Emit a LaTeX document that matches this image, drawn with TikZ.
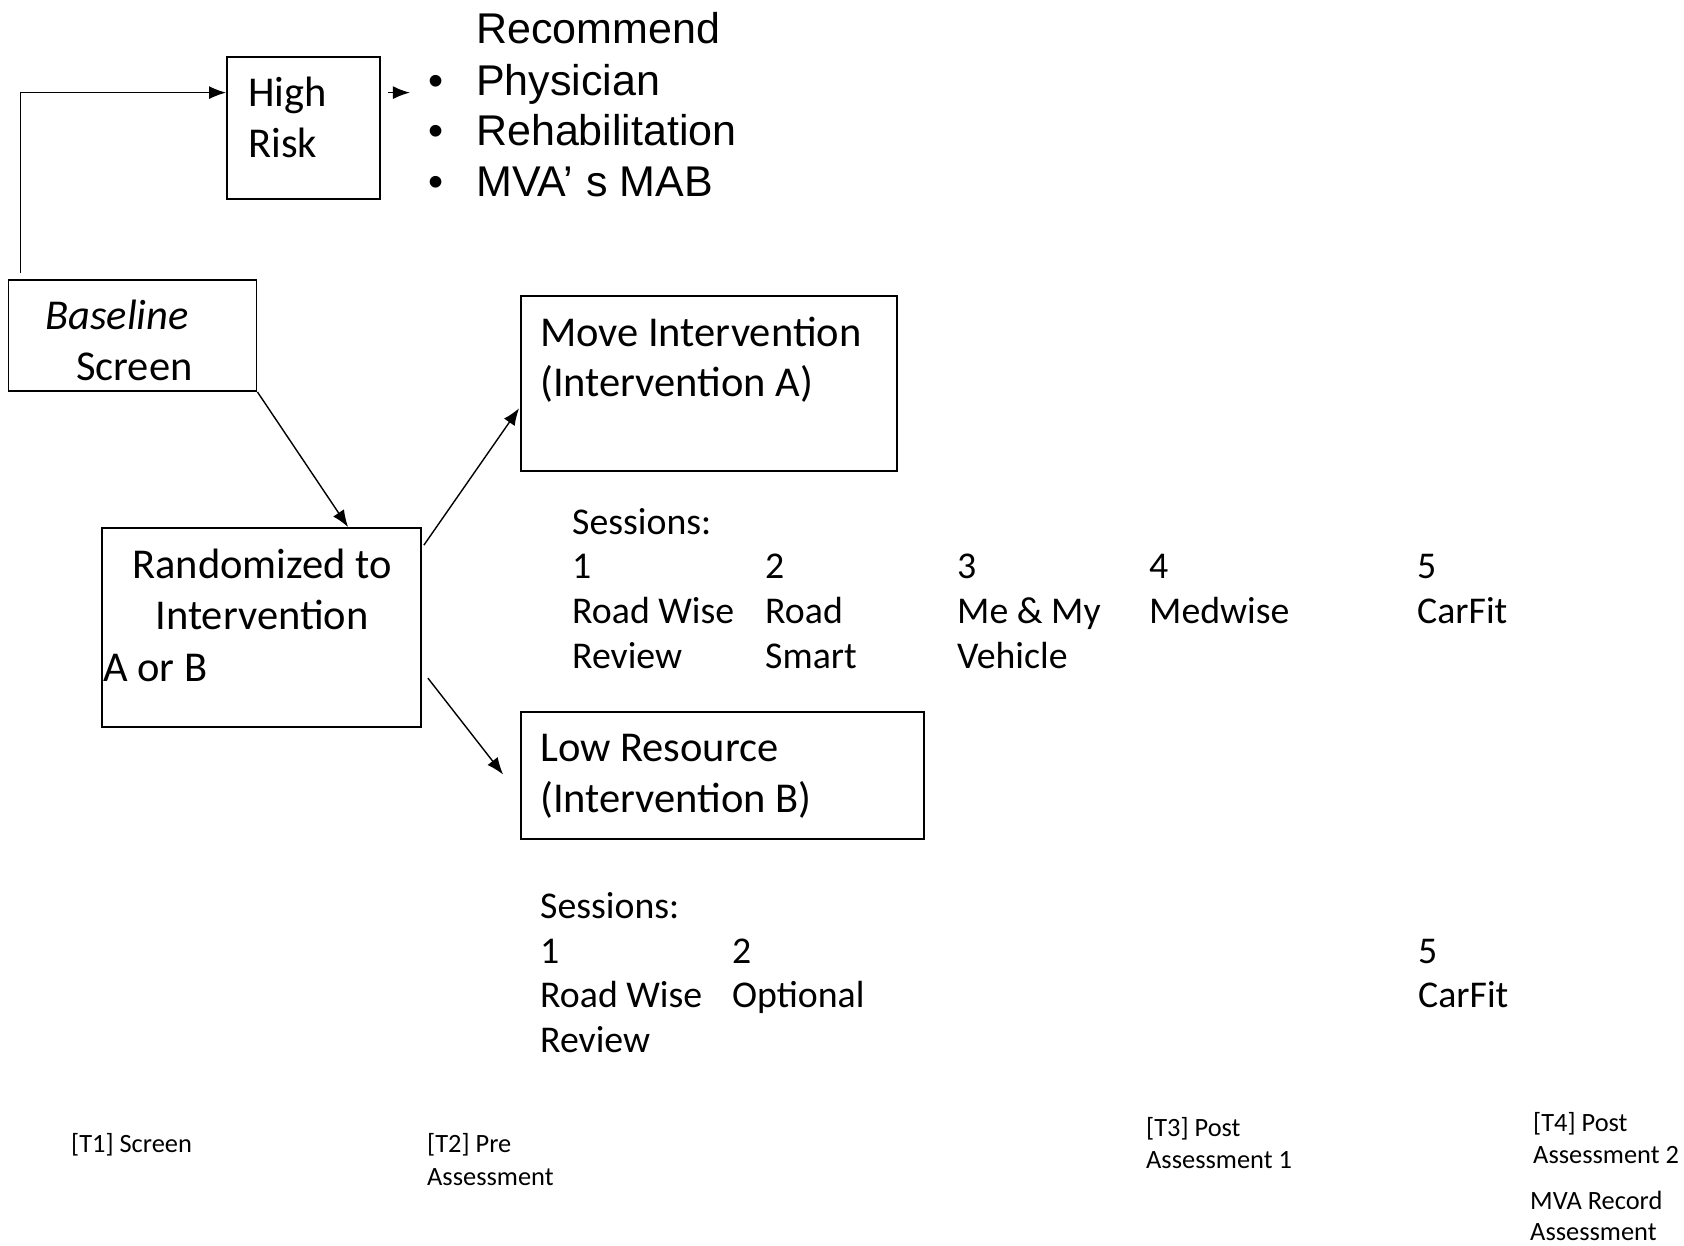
\documentclass[tikz,border=0pt]{standalone}
\usepackage{fontspec}
\setmainfont{Carlito}
\newfontfamily\arialf{Liberation Sans}
\usetikzlibrary{arrows.meta,calc}
\begin{document}
\begin{tikzpicture}[x=1pt,y=-1pt,
  box/.style={draw,line width=1.8pt,inner sep=0pt},
  arr/.style={line width=1.4pt,-{Latex[length=17pt,width=13pt]}},
  big/.style={anchor=base west,inner sep=0pt,font=\fontsize{42.5}{50}\selectfont},
  mid/.style={anchor=base west,inner sep=0pt,font=\fontsize{37.8}{45}\selectfont},
  bul/.style={anchor=base west,inner sep=0pt,font=\arialf\fontsize{43}{51}\selectfont},
  small/.style={anchor=base west,inner sep=0pt,font=\fontsize{26.4}{32}\selectfont}]
\useasboundingbox (0,0) rectangle (1684,1246);
% boxes
\node[box,minimum width=153pt,minimum height=142pt] (hr) at (303.5,128) {};
\node[box,minimum width=248pt,minimum height=111pt] (base) at (132.5,335.5) {};
\node[box,minimum width=319pt,minimum height=199pt] (rand) at (261.5,627.5) {};
\node[box,minimum width=376pt,minimum height=175pt] (movea) at (709,383.5) {};
\node[box,minimum width=403pt,minimum height=127pt] (lowb) at (722.5,775.5) {};
% box texts
\node[big] (t-high) at (248,107) {High};
\node[big] (t-risk) at (248,158) {Risk};
\node[big] (t-base) at (45,330) {\itshape Baseline};
\node[big] (t-scr) at (76,381) {Screen};
\node[big,anchor=base] (t-rand1) at (262,578) {Randomized to};
\node[big,anchor=base] (t-rand2) at (262,629) {Intervention};
\node[big] (t-rand3) at (103,681) {A or B};
\node[big] (t-mv1) at (540,347) {Move Intervention};
\node[big] (t-mv2) at (540,397) {(Intervention A)};
\node[big] (t-lr1) at (540,761) {Low Resource};
\node[big] (t-lr2) at (540,812) {(Intervention B)};
% recommendations
\node[bul] (rec) at (476,44) {Recommend};
\node[bul] (b1) at (428,96) {•};
\node[bul] (r1) at (476,96) {Physician};
\node[bul] (b2) at (428,146) {•};
\node[bul] (r2) at (476,146) {Rehabilitation};
\node[bul] (b3) at (428,197) {•};
\node[bul] (r3) at (476,197) {MVA’\hspace{0.32em}s MAB};
% sessions A
\node[mid] (sa) at (572,534) {Sessions:};
\node[mid] (sa1) at (572,578) {1};
\node[mid] (sa1a) at (572,623) {Road Wise};
\node[mid] (sa1b) at (572,668) {Review};
\node[mid] (sa2) at (765,578) {2};
\node[mid] (sa2a) at (765,623) {Road};
\node[mid] (sa2b) at (765,668) {Smart};
\node[mid] (sa3) at (957,578) {3};
\node[mid] (sa3a) at (957,623) {Me \& My};
\node[mid] (sa3b) at (957,668) {Vehicle};
\node[mid] (sa4) at (1149,578) {4};
\node[mid] (sa4a) at (1149,623) {Medwise};
\node[mid] (sa5) at (1417,578) {5};
\node[mid] (sa5a) at (1417,623) {CarFit};
% sessions B
\node[mid] (sb) at (540,918) {Sessions:};
\node[mid] (sb1) at (540,963) {1};
\node[mid] (sb1a) at (540,1007) {Road Wise};
\node[mid] (sb1b) at (540,1052) {Review};
\node[mid] (sb2) at (732,963) {2};
\node[mid] (sb2a) at (732,1007) {Optional};
\node[mid] (sb5) at (1418,963) {5};
\node[mid] (sb5a) at (1418,1007) {CarFit};
% time points
\node[small] (t1) at (71,1152) {[T1] Screen};
\node[small] (t2a) at (427,1152) {[T2] Pre};
\node[small] (t2b) at (427,1185) {Assessment};
\node[small] (t3a) at (1146,1136) {[T3] Post};
\node[small] (t3b) at (1146,1168) {Assessment 1};
\node[small] (t4a) at (1533,1131) {[T4] Post};
\node[small] (t4b) at (1533,1163) {Assessment 2};
\node[small] (t5a) at (1530,1209) {MVA Record};
\node[small] (t5b) at (1530,1240) {Assessment};
% connectors
\coordinate (bstart) at ($(base.north west)+(13,-6)$);
\coordinate (hrin) at ($(hr.north west)!0.254!(hr.south west)$);
\draw[arr] (bstart) |- (hrin);
\coordinate (hrout) at ($(hr.north east)!0.254!(hr.south east)$);
\coordinate (hrend) at ($(hrout)+(29,0)$);
\draw[arr] ($(hrout)+(7,0)$) -- (hrend);
\draw[arr] (base.south east) -- ($(rand.north west)!0.77!(rand.north east)$);
\draw[arr] ($(rand.north east)+(2,18)$) -- ($(movea.north west)!0.64!(movea.south west)+(-1,0)$);
\coordinate (lowend) at ($(lowb.west)+(-17,-1)$);
\draw[arr] ($(rand.north east)+(6,151)$) -- (lowend);
\end{tikzpicture}
\end{document}
